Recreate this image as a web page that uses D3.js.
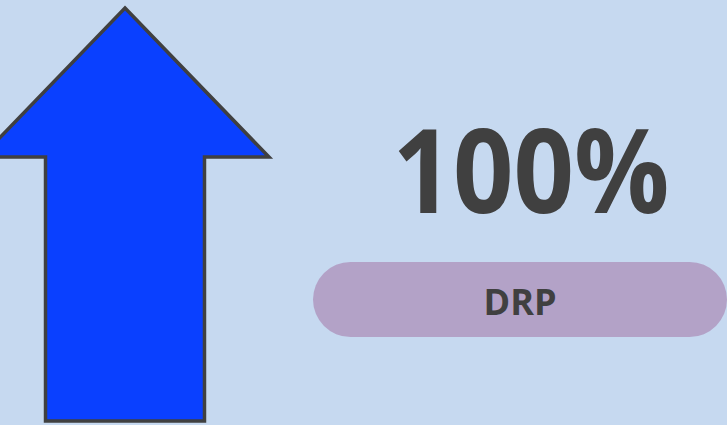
<!DOCTYPE html>
<html>
<head>
<meta charset="utf-8">
<script src="https://cdn.jsdelivr.net/npm/d3@7"></script>
<style>
  html, body { margin: 0; padding: 0; background: #c6d9f0; }
  svg { display: block; }
</style>
</head>
<body>
<div class="visualization"></div>
<script>
// values for the KPI tile
const labels = ["DRP"];
const values = [100];
const directions = ["up"];

const width = 727;
const height = 425;

const svg = d3.select(".visualization")
  .append("svg")
  .attr("width", width)
  .attr("height", height)
  .attr("viewBox", `0 0 ${width} ${height}`);

svg.append("rect")
  .attr("width", width)
  .attr("height", height)
  .attr("fill", "#c6d9f0");

// arrow drawn in unit space: x -1..1 across the head, y 0 (tip) .. 1 (tail)
const arrowX = d3.scaleLinear().domain([-1, 1]).range([-19, 269]);
const arrowY = d3.scaleLinear().domain([0, 1]).range([8, 421]);
const headBase = 0.361;
const shaftHalf = 0.552;

const unitArrow = [
  [0, 0], [1, headBase], [shaftHalf, headBase], [shaftHalf, 1],
  [-shaftHalf, 1], [-shaftHalf, headBase], [-1, headBase]
];

const line = d3.line()
  .x(d => arrowX(d[0]))
  .y(d => arrowY(directions[0] === "up" ? d[1] : 1 - d[1]))
  .curve(d3.curveLinearClosed);

svg.append("path")
  .attr("class", "arrow")
  .attr("d", line(unitArrow))
  .attr("fill", "#0a40ff")
  .attr("stroke", "#404040")
  .attr("stroke-width", 3.5)
  .attr("stroke-linejoin", "miter");

// big percentage
const fmt = d3.format(".0%");
svg.append("text")
  .attr("x", 531)
  .attr("y", 213)
  .attr("text-anchor", "middle")
  .attr("font-family", "'Open Sans', 'Liberation Sans', sans-serif")
  .attr("font-weight", 700)
  .attr("font-size", 116)
  .attr("textLength", 277)
  .attr("lengthAdjust", "spacingAndGlyphs")
  .attr("fill", "#404040")
  .text(fmt(values[0] / 100));

// label pill
const pillX = d3.scaleLinear().domain([0, 1]).range([313, 727]);
svg.append("rect")
  .attr("x", pillX(0))
  .attr("y", 262)
  .attr("width", pillX(1) - pillX(0))
  .attr("height", 75)
  .attr("rx", 37.5)
  .attr("fill", "#b3a2c7");

svg.append("text")
  .attr("x", pillX(0.5))
  .attr("y", 315)
  .attr("text-anchor", "middle")
  .attr("font-family", "'Open Sans', 'Liberation Sans', sans-serif")
  .attr("font-weight", 700)
  .attr("font-size", 36)
  .attr("fill", "#404040")
  .text(labels[0]);
</script>
</body>
</html>
